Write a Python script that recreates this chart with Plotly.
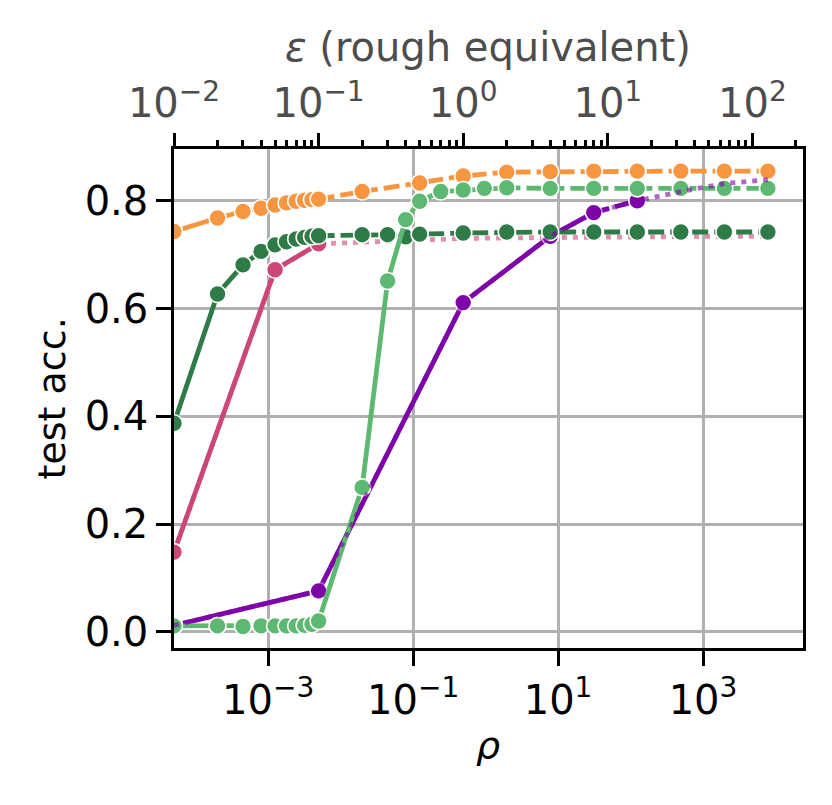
import plotly.graph_objects as go

# ---------------- data (x = epsilon, rough equivalent; y = test accuracy) ----------------
eps_orange = [0.01, 0.02, 0.03, 0.04, 0.05, 0.06, 0.07, 0.08, 0.09, 0.1, 0.2, 0.5, 1, 2, 4, 8, 16, 32, 64, 128]
acc_orange = [0.743, 0.768, 0.780, 0.786, 0.792, 0.796, 0.799, 0.801, 0.802, 0.803, 0.817, 0.833, 0.846,
              0.853, 0.854, 0.855, 0.855, 0.855, 0.855, 0.855]

eps_pink = [0.01, 0.05, 0.1]
acc_pink = [0.148, 0.672, 0.720]
eps_pink_dot = [0.01, 0.05, 0.1, 0.5, 1, 2, 4, 8, 16, 32, 64, 128]
acc_pink_dot = [0.148, 0.672, 0.720, 0.728, 0.730, 0.731, 0.732, 0.733, 0.733, 0.733, 0.734, 0.734]

eps_dgreen = [0.01, 0.02, 0.03, 0.04, 0.05, 0.06, 0.07, 0.08, 0.09, 0.1, 0.2, 0.3, 0.4, 0.5, 1, 2, 4, 8, 16, 32, 64, 128]
acc_dgreen = [0.387, 0.627, 0.681, 0.706, 0.718, 0.724, 0.729, 0.732, 0.734, 0.735, 0.737, 0.737, 0.733, 0.738,
              0.740, 0.742, 0.742, 0.742, 0.742, 0.742, 0.742, 0.742]

eps_purple = [0.01, 0.1, 1, 4, 8, 16]
acc_purple = [0.012, 0.076, 0.611, 0.734, 0.778, 0.800]
eps_purple_dot = [0.01, 0.1, 1, 4, 8, 16, 32, 64, 128]
acc_purple_dot = [0.012, 0.076, 0.611, 0.734, 0.778, 0.800, 0.817, 0.832, 0.839]

eps_lgreen = [0.01, 0.02, 0.03, 0.04, 0.05, 0.06, 0.07, 0.08, 0.09, 0.1, 0.2, 0.3, 0.4, 0.5, 0.7, 1, 1.4, 2,
              4, 8, 16, 32, 64, 128]
acc_lgreen = [0.011, 0.011, 0.010, 0.011, 0.011, 0.011, 0.011, 0.012, 0.014, 0.020, 0.268, 0.651, 0.765, 0.799,
              0.817, 0.820, 0.823, 0.824, 0.823, 0.823, 0.823, 0.823, 0.823, 0.823]

rho_ticks = [1e-3, 1e-1, 1e1, 1e3]
rho_labels = ["10<sup>−3</sup>", "10<sup>−1</sup>", "10<sup>1</sup>", "10<sup>3</sup>"]
eps_ticks = [1e-2, 1e-1, 1e0, 1e1, 1e2]
eps_labels = ["10<sup>−2</sup>", "10<sup>−1</sup>", "10<sup>0</sup>", "10<sup>1</sup>", "10<sup>2</sup>"]
acc_ticks = [0.0, 0.2, 0.4, 0.6, 0.8]

C_ORANGE = "#f89540"
C_PINK = "#cc4778"
C_DGREEN = "#2f7b47"
C_PURPLE = "#7e03a8"
C_LGREEN = "#5db872"

LW = 4.8
MS = 17
DASH = "16px,6px"
DOT = "5px,6px"

fig = go.Figure()

# invisible trace so that the bottom (rho) axis and its grid are drawn
fig.add_trace(go.Scatter(x=rho_ticks, y=[acc_ticks[0]] * len(rho_ticks), xaxis="x", yaxis="y",
                         mode="markers", marker=dict(opacity=0), hoverinfo="skip"))


def line(x, y, color, dash="solid", opacity=1.0, width=LW):
    fig.add_trace(go.Scatter(x=x, y=y, xaxis="x2", yaxis="y", mode="lines",
                             line=dict(color=color, width=width, dash=dash),
                             opacity=opacity, hoverinfo="skip"))


def marks(x, y, color):
    fig.add_trace(go.Scatter(x=x, y=y, xaxis="x2", yaxis="y", mode="markers",
                             marker=dict(color=color, size=MS, line=dict(color="white", width=1.6)),
                             hoverinfo="skip"))


# orange
line(eps_orange[:10], acc_orange[:10], C_ORANGE)
line(eps_orange[9:], acc_orange[9:], C_ORANGE, DASH)
marks(eps_orange, acc_orange, C_ORANGE)
# pink
line(eps_pink, acc_pink, C_PINK)
line(eps_pink_dot, acc_pink_dot, C_PINK, DOT, 0.6)
marks(eps_pink, acc_pink, C_PINK)
# purple
line(eps_purple[:5], acc_purple[:5], C_PURPLE)
line(eps_purple[4:], acc_purple[4:], C_PURPLE, DASH)
marks(eps_purple, acc_purple, C_PURPLE)
# dark green
line(eps_dgreen[:10], acc_dgreen[:10], C_DGREEN)
line(eps_dgreen[9:], acc_dgreen[9:], C_DGREEN, DASH)
marks(eps_dgreen, acc_dgreen, C_DGREEN)
# light green
line(eps_lgreen[:13], acc_lgreen[:13], C_LGREEN)
line(eps_lgreen[12:], acc_lgreen[12:], C_LGREEN, DASH)
marks(eps_lgreen, acc_lgreen, C_LGREEN)
# purple dotted overlay
line(eps_purple_dot, acc_purple_dot, C_PURPLE, DOT, 0.6)

minor_eps = [k * 10.0 ** d for d in range(-2, 3) for k in range(2, 10)]

FS = 40
FT = 38
TL = 14.6
TW = 3.3
fig.update_layout(
    width=832, height=805,
    margin=dict(l=174, r=29, t=149, b=157),
    plot_bgcolor="white", paper_bgcolor="white", showlegend=False,
    font=dict(family="DejaVu Sans", size=FS, color="black"),
    xaxis=dict(type="log", range=[-4.30, 4.38], tickmode="array", tickvals=rho_ticks, ticktext=rho_labels,
               ticks="outside", ticklen=TL, tickwidth=TW, tickcolor="black",
               showgrid=True, gridcolor="#b0b0b0", gridwidth=TW, zeroline=False,
               showline=True, linecolor="black", linewidth=TW, mirror=True,
               tickfont=dict(size=FS, color="black")),
    xaxis2=dict(type="log", range=[-2.0, 2.35], overlaying="x", side="top", anchor="y",
                tickmode="array", tickvals=eps_ticks, ticktext=eps_labels,
                ticks="outside", ticklen=TL, tickwidth=TW, tickcolor="black",
                showgrid=False, zeroline=False, showline=False,
                tickfont=dict(size=FS, color="#4d4d4d"),
                minor=dict(tickmode="array", tickvals=minor_eps, ticks="outside", ticklen=8.3,
                           tickwidth=2.5, tickcolor="black", showgrid=False)),
    yaxis=dict(range=[-0.030, 0.896], tickmode="array", tickvals=acc_ticks,
               ticktext=["%.1f" % v for v in acc_ticks],
               ticks="outside", ticklen=TL, tickwidth=TW, tickcolor="black",
               showgrid=True, gridcolor="#b0b0b0", gridwidth=TW, zeroline=False,
               showline=True, linecolor="black", linewidth=TW, mirror=True,
               tickfont=dict(size=FS, color="black")),
)

fig.add_annotation(text="test acc.", xref="paper", yref="paper", x=-0.194, y=0.5,
                   xanchor="center", yanchor="middle", textangle=-90, showarrow=False,
                   font=dict(size=FT, color="black"))
fig.add_annotation(text="<i>ρ</i>", xref="paper", yref="paper", x=0.4992, y=-0.195,
                   xanchor="center", yanchor="middle", showarrow=False,
                   font=dict(size=FT, color="black"))
fig.add_annotation(text="<i>ε</i> (rough equivalent)", xref="paper", yref="paper", x=0.4992, y=1.205,
                   xanchor="center", yanchor="middle", showarrow=False,
                   font=dict(size=40, color="#4d4d4d"))

fig.write_html("out.html", config={"displayModeBar": False},
               post_script="document.body.style.margin='0px';")
